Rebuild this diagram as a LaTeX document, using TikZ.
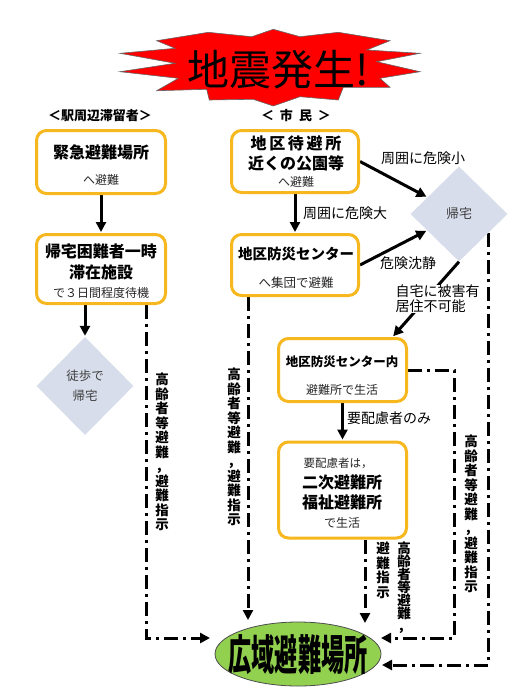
\documentclass[tikz,border=0pt]{standalone}
\usepackage{fontspec}
\usepackage{graphicx}
\setmainfont{Noto Sans CJK JP}
\usetikzlibrary{shapes.geometric,arrows.meta,calc}
\pgfdeclarelayer{bg}
\pgfsetlayers{bg,main}
\definecolor{boxor}{RGB}{247,183,30}
\definecolor{diafill}{RGB}{215,221,235}
\definecolor{ellg}{RGB}{146,208,80}
\definecolor{burstred}{RGB}{255,0,0}
\newcommand{\fsz}[1]{\fontsize{#1}{#1}\selectfont}
\begin{document}
\begin{tikzpicture}[x=1pt,y=-1pt,
 obox/.style={draw=boxor,line width=3pt,rounded corners=10pt,fill=white,inner sep=0pt},
 dia/.style={diamond,fill=diafill,inner sep=0pt,aspect=1,align=center,text=black!75},
 arr/.style={line width=3pt,shorten >=1pt,-{Triangle[length=10pt,width=10pt]}},
 dd/.style={line width=3pt,dash pattern=on 14pt off 5pt on 3pt off 5pt,-{Triangle[length=10pt,width=10pt]}},
 lbl/.style={font=\fsz{14},inner sep=1pt},
 vt/.style={font=\bfseries\fontsize{13.5}{14.5}\selectfont,align=center,inner sep=0pt,anchor=north},
 tb/.style={font=\bfseries\fsz{16},inner sep=0pt},
 ts/.style={font=\fsz{12},inner sep=0pt,text=black!85}]
\useasboundingbox (0,0) rectangle (531,699);
% burst
\filldraw[fill=burstred,draw=black!60,line width=0.6pt]
 (156.7,40.7) -- (208.3,32.3) -- (251.7,36.7) -- (273.3,29.3) -- (300,36.7) -- (338.3,32.3)
 -- (390,40.7) -- (366.7,50) -- (420,53.3) -- (376.7,61.7) -- (420,71.7) -- (380,78.3)
 -- (390,87.3) -- (343.3,87.3) -- (338.3,100) -- (300,96.7) -- (273.3,106) -- (253.3,99.3)
 -- (209.3,100) -- (206.7,89.3) -- (156.7,90.7) -- (178.3,78.3) -- (120,71.7) -- (175,63.3)
 -- (120,53.3) -- (175,48.3) -- cycle;
\node[inner sep=0pt] (title) at (278,70) {\fsz{42}地震発生!};
% headers
\node[font=\bfseries\fsz{13},inner sep=0pt] (h1) at (100,116) {＜駅周辺滞留者＞};
\node[font=\bfseries\fsz{13},inner sep=0pt] (h2) at (296,116) {＜\hspace{6pt}市\hspace{6pt}民\hspace{6pt}＞};
% left column
\node[obox,minimum width=129pt,minimum height=63pt] (b1) at (101,162) {};
\node[tb] (b1t) at (101,152) {緊急避難場所};
\node[ts] (b1s) at (101,180) {へ避難};
\node[obox,minimum width=129pt,minimum height=69pt] (b2) at (101,269) {};
\node[tb] (b2t) at (101,251) {帰宅困難者一時};
\node[tb] (b2u) at (101,272) {滞在施設};
\node[ts] (b2s) at (101,293) {で３日間程度待機};
\node[dia,minimum width=97pt,minimum height=98pt,font=\fontsize{12.5}{20}\selectfont] (d1) at (85,386) {徒歩で\\帰宅};
% middle column
\node[obox,minimum width=127pt,minimum height=62pt] (bA) at (295,161.5) {};
\node[tb] (bAt) at (296,143) {地\,区\,待\,避\,所};
\node[tb] (bAu) at (296,163) {近くの公園等};
\node[ts] (bAs) at (296,182) {へ避難};
\node[obox,minimum width=127pt,minimum height=61pt] (bB) at (295,265) {};
\node[tb,font=\bfseries\fsz{14.5}] (bBt) at (296,254) {地区防災センター};
\node[ts,font=\fsz{12.5}] (bBs) at (296,283) {へ集団で避難};
\node[dia,minimum width=97pt,minimum height=95pt,font=\fsz{13}] (d2) at (459,214) {帰宅};
\node[obox,minimum width=128pt,minimum height=63pt] (bC) at (342.5,370) {};
\node[tb,font=\bfseries\fsz{12.5}] (bCt) at (342,362) {地区防災センター内};
\node[ts] (bCs) at (342,390) {避難所で生活};
\node[obox,minimum width=128pt,minimum height=96pt] (bD) at (342.5,490) {};
\node[ts,font=\fsz{11.5}] (bDa) at (338,463) {要配慮者は，};
\node[tb] (bDt) at (342,482) {二次避難所};
\node[tb] (bDu) at (342,502) {福祉避難所};
\node[ts] (bDs) at (342,523) {で生活};
% ellipse
\node[ellipse,fill=ellg,draw=black!70,line width=0.8pt,minimum width=166pt,minimum height=64pt,inner sep=0pt] (ell) at (298,654) {};
\node[inner sep=0pt] (ellt) at (298,655) {\scalebox{0.55}[1]{\bfseries\fsz{42}広域避難場所}};
% edge labels
\node[lbl,anchor=west] (l1) at (302,213) {周囲に危険大};
\node[lbl] (l2) at (423,158) {周囲に危険小};
\node[lbl] (l3) at (408,263) {危険沈静};
\node[lbl,anchor=west] (l5) at (346,418) {要配慮者のみ};
% vertical labels
\node[vt] (v1) at (162,373) {高\\齢\\者\\等\\避\\難\\，\\避\\難\\指\\示};
\node[vt] (v2) at (234,368) {高\\齢\\者\\等\\避\\難\\，\\避\\難\\指\\示};
\node[vt] (v3) at (471,435) {高\\齢\\者\\等\\避\\難\\，\\避\\難\\指\\示};
\node[vt] (v4) at (383,542) {避\\難\\指\\示};
\node[vt,font=\bfseries\fontsize{13.5}{13}\selectfont] (v5) at (404,542) {高\\齢\\者\\等\\避\\難\\，};
% coordinates
\coordinate (e1) at (210,638);
\coordinate (e2) at (248,620);
\coordinate (e3) at (365,623);
\coordinate (k4) at (454,370);
\coordinate (e4) at (381,638);
\coordinate (e5) at (382,665);
\begin{pgfonlayer}{bg}
\draw[arr] (b1.south) -- (b2.north);
\draw[arr] (b2.south -| d1.north) -- (d1.north);
\draw[arr] (bA.south) -- (bB.north);
\draw[arr] (bA.east) -- (d2);
\draw[arr] (bB.east) -- (d2);
\draw[arr] (d2.south) -- ([xshift=50pt]bC.north);
\draw[arr] (bC.south) -- (bD.north);
\draw[dd] ([xshift=45pt]b2.south) |- (e1);
\draw[dd] (bB.south -| e2) -- (e2);
\draw[dd] (bD.south -| e3) -- (e3);
\draw[dd] (bC.east) -- (k4) |- (e4);
\draw[dd] (d2.-33) |- (e5);
\end{pgfonlayer}
\node[lbl,anchor=west,align=left,fill=white,inner sep=0.5pt,font=\fontsize{14}{15}\selectfont] (l4) at (395,299) {自宅に被害有\\居住不可能};
\end{tikzpicture}
\end{document}
